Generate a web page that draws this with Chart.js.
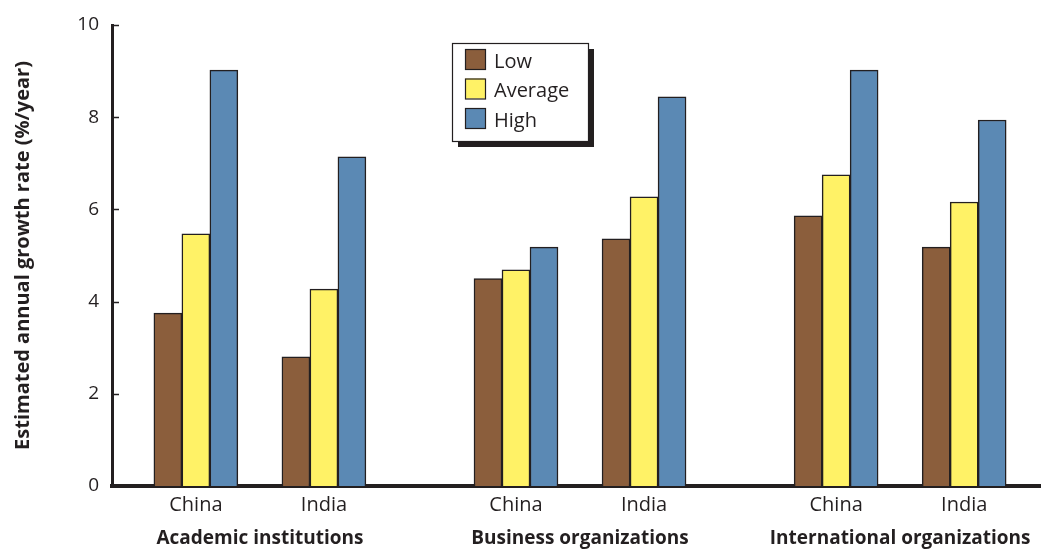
<!DOCTYPE html>
<html>
<head>
<meta charset="utf-8">
<script src="https://cdn.jsdelivr.net/npm/chart.js@4.4.1/dist/chart.umd.min.js"></script>
<style>
  html, body { margin: 0; padding: 0; background: #fff; }
  #wrap { width: 1041px; height: 549px; position: relative; }
</style>
</head>
<body>
<div id="wrap"><canvas id="myChart"></canvas></div>
<script>
'use strict';

// *********** DATA ***********
let groupNames = ['Academic institutions', 'Business organizations', 'International organizations'];
let countryNames = ['China', 'India'];
let seriesNames = ['Low', 'Average', 'High'];

// order: Academic China, Academic India, Business China, Business India, International China, International India
let lowValues = [3.75, 2.8, 4.5, 5.36, 5.86, 5.18];
let averageValues = [5.47, 4.27, 4.69, 6.27, 6.75, 6.16];
let highValues = [9.02, 7.14, 5.18, 8.44, 9.02, 7.94];

let yTicks = [0, 2, 4, 6, 8, 10];

// ********* STYLE *******************
let seriesColors = ['#8b5e3c', '#fff266', '#5b89b4'];
let inkColor = '#231f20';
let fontFamily = '"Open Sans", "Noto Sans", sans-serif';

// ********* HELPERS *******************
// slot on the x axis: countries two slots apart, groups separated by an extra gap
function slotOf(groupIndex, countryIndex) {
  return groupIndex * 5 + countryIndex * 2;
}

function toPoints(values) {
  let points = [];
  for (let i = 0; i < values.length; i++) {
    let g = Math.floor(i / countryNames.length);
    let c = i % countryNames.length;
    points.push({ x: slotOf(g, c), y: values[i] });
  }
  return points;
}

// tick labels along the bottom: country names under bars, group names (second line) between them
let xTickLabels = {};
let groupTickValues = [];
for (let g = 0; g < groupNames.length; g++) {
  for (let c = 0; c < countryNames.length; c++) {
    xTickLabels[slotOf(g, c)] = countryNames[c];
  }
  let mid = (slotOf(g, 0) + slotOf(g, countryNames.length - 1)) / 2;
  xTickLabels[mid] = ['', groupNames[g]];
  groupTickValues.push(mid);
}
let xTickValues = Object.keys(xTickLabels).map(Number).sort((a, b) => a - b);

// ******** PLUGIN: inward ticks + boxed legend ***************
let extrasPlugin = {
  id: 'extras',
  afterDraw(chart) {
    let ctx = chart.ctx;
    let yScale = chart.scales.y;
    let left = chart.chartArea.left;

    ctx.save();
    ctx.strokeStyle = inkColor;
    ctx.lineWidth = 1.5;
    for (let i = 1; i < yTicks.length; i++) {
      let py = Math.round(yScale.getPixelForValue(yTicks[i])) + 0.5;
      ctx.beginPath();
      ctx.moveTo(left, py);
      ctx.lineTo(left + 7, py);
      ctx.stroke();
    }

    // legend box with drop shadow
    let bx = 452, by = 43, bw = 136, bh = 98;
    ctx.fillStyle = inkColor;
    ctx.fillRect(bx + 6, by + 6, bw, bh);
    ctx.fillStyle = '#fff';
    ctx.fillRect(bx, by, bw, bh);
    ctx.lineWidth = 1.2;
    ctx.strokeStyle = inkColor;
    ctx.strokeRect(bx + 0.5, by + 0.5, bw, bh);

    ctx.font = '20px ' + fontFamily;
    ctx.textBaseline = 'middle';
    ctx.textAlign = 'left';
    chart.data.datasets.forEach((ds, i) => {
      let sy = by + 6 + i * 29.5;
      ctx.fillStyle = ds.backgroundColor;
      ctx.fillRect(bx + 13, sy, 20, 20);
      ctx.strokeRect(bx + 13.5, sy + 0.5, 20, 20);
      ctx.fillStyle = inkColor;
      ctx.fillText(ds.label, bx + 42, sy + 13);
    });
    ctx.restore();
  }
};

// ********** CHART ***********
let datasets = [lowValues, averageValues, highValues].map((values, i) => ({
  label: seriesNames[i],
  data: toPoints(values),
  backgroundColor: seriesColors[i],
  borderColor: inkColor,
  borderWidth: 1.5,
  barThickness: 28
}));

let ctx = document.getElementById('myChart').getContext('2d');

let myChartObj = {
  type: 'bar',
  data: { datasets: datasets },
  plugins: [extrasPlugin],
  options: {
    responsive: true,
    maintainAspectRatio: false,
    animation: false,
    layout: { padding: { top: 25, right: 0, bottom: 0, left: 0 } },
    plugins: {
      legend: { display: false },
      tooltip: { enabled: false }
    },
    scales: {
      x: {
        type: 'linear',
        offset: false,
        min: -1.31,
        max: 13.2,
        grid: { display: false, drawTicks: false },
        border: { display: true, color: inkColor, width: 4 },
        afterFit: (scale) => { scale.height = 63; },
        afterBuildTicks: (scale) => {
          scale.ticks = xTickValues.map((v) => ({ value: v }));
        },
        ticks: {
          autoSkip: false,
          maxRotation: 0,
          padding: 2,
          color: inkColor,
          callback: (value) => xTickLabels[value],
          font: (c) => {
            let isGroup = c.tick && groupTickValues.includes(c.tick.value);
            return { family: fontFamily, size: isGroup ? 19 : 20, weight: isGroup ? 'bold' : 'normal', lineHeight: isGroup ? 34 / 19 : 34 / 20 };
          }
        }
      },
      y: {
        min: 0,
        max: 10,
        grid: { display: false, drawTicks: false },
        border: { display: true, color: inkColor, width: 3 },
        afterFit: (scale) => { scale.width = 112; },
        afterBuildTicks: (scale) => {
          scale.ticks = yTicks.map((v) => ({ value: v }));
        },
        ticks: {
          padding: 13,
          color: inkColor,
          font: { family: fontFamily, size: 19 }
        },
        title: {
          display: true,
          text: 'Estimated annual growth rate (%/year)',
          color: inkColor,
          padding: { top: 11, bottom: 0 },
          font: { family: fontFamily, size: 20, weight: 'bold' }
        }
      }
    }
  }
};

const myChart = new Chart(ctx, myChartObj);
</script>
</body>
</html>
